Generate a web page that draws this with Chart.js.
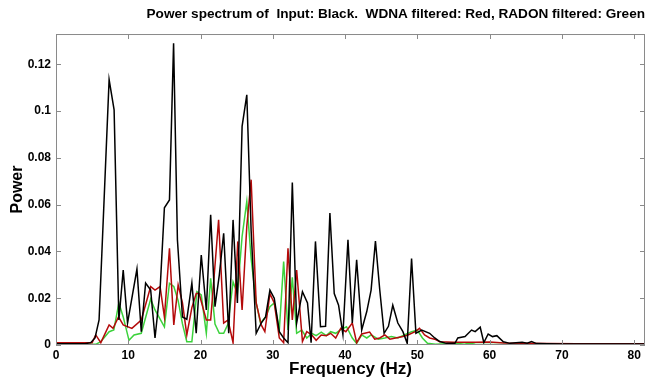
<!DOCTYPE html>
<html>
<head>
<meta charset="utf-8">
<script src="https://cdn.jsdelivr.net/npm/chart.js@4/dist/chart.umd.min.js"></script>
<style>
html,body{margin:0;padding:0;background:#fff;}
#wrap{width:654px;height:380px;}
</style>
</head>
<body>
<div id="wrap"><canvas id="c" width="654" height="380"></canvas></div>
<script>
const titleText = "Power spectrum of  Input: Black.  WDNA filtered: Red, RADON filtered: Green";
const xTitle = "Frequency (Hz)";
const yTitle = "Power";
const xTicks = [0,10,20,30,40,50,60,70,80];
const yTicks = [0,0.02,0.04,0.06,0.08,0.1,0.12];

const blackFreq = [0,2,4,4.8,5.4,5.96,7.35,8.04,8.7,9.3,9.9,11.2,11.8,12.4,13.1,13.7,14.4,15.0,15.7,16.27,16.8,17.5,18.1,18.8,19.4,20.1,20.8,21.4,22.0,22.6,23.2,23.9,24.5,25.1,25.75,26.4,27.0,27.7,28.4,29.0,29.6,30.2,30.9,31.5,32.1,32.7,33.3,34.1,34.8,35.3,35.9,36.6,37.3,37.9,38.5,39.1,39.7,40.4,41.0,41.6,42.3,43.0,43.6,44.2,44.8,45.4,46.0,46.6,47.3,48.0,48.6,49.2,49.8,50.6,51.7,52.4,53.1,54.0,55.2,55.6,56.6,57.5,58.0,58.7,59.2,59.8,60.4,61.0,61.9,62.8,64.5,65.2,65.8,66.5,68,70,75,81.5];
const blackPower = [0.0005,0.0005,0.0005,0.001,0.003,0.0107,0.1135,0.1006,0.0107,0.032,0.0094,0.0325,0.0057,0.0265,0.0235,0.003,0.0235,0.0587,0.062,0.129,0.045,0.012,0.011,0.0265,0.005,0.0385,0.015,0.0557,0.0164,0.03,0.0478,0.005,0.0535,0.018,0.0935,0.107,0.049,0.005,0.0094,0.012,0.0235,0.02,0.0057,0.003,0.001,0.0695,0.0094,0.0228,0.018,0.001,0.0443,0.0078,0.008,0.0564,0.022,0.017,0.0045,0.045,0.0094,0.0364,0.0064,0.0143,0.0235,0.0445,0.0235,0.005,0.008,0.017,0.0094,0.0057,0.0007,0.037,0.005,0.0064,0.005,0.003,0.0015,0.0007,0.0007,0.003,0.0036,0.0064,0.0057,0.0076,0.001,0.0047,0.0036,0.004,0.0014,0.0007,0.0012,0.0008,0.0015,0.0006,0.0005,0.0004,0.0004,0.0004];

const redFreq = [0,5.0,5.5,6.2,7.35,7.9,8.65,9.3,10.5,11.8,13.1,13.7,14.4,15.0,15.7,16.3,16.9,17.5,18.1,18.8,19.4,19.8,20.8,21.4,22.5,23.2,23.8,24.5,25.15,25.75,26.4,27.0,27.7,28.4,28.9,29.6,30.2,30.9,31.5,32.1,32.7,33.3,34.1,34.7,35.4,36.0,36.7,37.4,38.0,38.7,39.4,40.1,41.0,41.6,42.3,43.4,44.1,44.8,45.5,46.2,47.0,48.0,48.7,49.7,50.3,51.0,51.7,52.4,53.1,55,58,60,62,64.5,68,72,81.5];
const redPower = [0.001,0.001,0.0043,0.001,0.0086,0.0071,0.012,0.0086,0.0071,0.0107,0.025,0.0235,0.025,0.012,0.0414,0.0086,0.0257,0.018,0.0043,0.016,0.022,0.022,0.0107,0.0107,0.0535,0.0094,0.0107,0.001,0.0443,0.015,0.0507,0.0707,0.018,0.0086,0.0057,0.022,0.018,0.003,0.001,0.0414,0.0107,0.032,0.0015,0.0057,0.0043,0.002,0.0043,0.004,0.005,0.003,0.0071,0.0057,0.0094,0.001,0.0047,0.0055,0.0025,0.003,0.0043,0.0025,0.003,0.0036,0.0043,0.0057,0.0071,0.0043,0.003,0.0025,0.0014,0.0012,0.0012,0.0013,0.0009,0.0008,0.0006,0.0005,0.0005];

const greenFreq = [0,5.5,6.2,7.35,8.0,8.7,9.3,10.1,10.8,11.8,13.1,13.7,15.0,15.7,16.3,16.9,17.5,18.1,18.8,19.5,20.1,20.8,21.4,22.0,22.6,23.2,23.8,24.5,25.1,25.75,26.4,27.0,27.7,28.3,29.0,29.6,30.2,30.9,31.5,32.1,32.7,33.3,34.0,34.7,35.4,36.0,36.7,37.4,38.0,38.7,39.3,40.2,41.0,41.6,42.3,43.0,43.6,44.6,45.5,46.4,47.3,48.2,49.2,50.0,50.7,51.4,52.5,55.5,56.5,57.2,58,81.5];
const greenPower = [0.0003,0.0003,0.0014,0.0057,0.0064,0.018,0.012,0.002,0.0043,0.005,0.0196,0.015,0.0078,0.0264,0.025,0.019,0.009,0.0014,0.0014,0.0228,0.0214,0.005,0.0285,0.009,0.005,0.005,0.009,0.027,0.022,0.0464,0.0614,0.037,0.018,0.0094,0.012,0.0164,0.018,0.0064,0.0357,0.0064,0.029,0.005,0.0064,0.003,0.005,0.004,0.0055,0.004,0.0057,0.005,0.0064,0.0078,0.003,0.0007,0.0043,0.003,0.0043,0.0025,0.003,0.0036,0.003,0.0043,0.0057,0.0064,0.003,0.0007,0.0003,0.0008,0.0003,0.0008,0.0003,0.0002];

const toPts = (f, p) => f.map((x, i) => ({x: x, y: p[i]}));

const boxTicks = {
  id: 'boxTicks',
  afterDraw(chart) {
    const {ctx, chartArea: a, scales: {x, y}} = chart;
    ctx.save();
    ctx.strokeStyle = '#8a8a8a';
    ctx.lineWidth = 1;
    ctx.strokeRect(a.left + 0.5, a.top + 0.5, a.right - a.left - 1, a.bottom - a.top - 1);
    const L = 5;
    ctx.beginPath();
    xTicks.forEach(v => {
      const px = Math.round(x.getPixelForValue(v)) + 0.5;
      ctx.moveTo(px, a.bottom); ctx.lineTo(px, a.bottom - L);
      ctx.moveTo(px, a.top); ctx.lineTo(px, a.top + L);
    });
    yTicks.forEach(v => {
      const py = Math.round(y.getPixelForValue(v)) + 0.5;
      ctx.moveTo(a.left, py); ctx.lineTo(a.left + L, py);
      ctx.moveTo(a.right, py); ctx.lineTo(a.right - L, py);
    });
    ctx.stroke();
    ctx.restore();
  }
};

const FAM = 'Liberation Sans, Arial, sans-serif';
const tickFont = {family: FAM, size: 12, weight: 'bold'};

new Chart(document.getElementById('c'), {
  type: 'line',
  data: {
    datasets: [
      {label: 'Input', data: toPts(blackFreq, blackPower), borderColor: '#000000', borderWidth: 1.5, pointRadius: 0, tension: 0, fill: false},
      {label: 'WDNA filtered', data: toPts(redFreq, redPower), borderColor: '#b40a0a', borderWidth: 1.5, pointRadius: 0, tension: 0, fill: false},
      {label: 'RADON filtered', data: toPts(greenFreq, greenPower), borderColor: '#3cd23c', borderWidth: 1.5, pointRadius: 0, tension: 0, fill: false}
    ]
  },
  options: {
    responsive: false,
    animation: false,
    devicePixelRatio: 1,
    layout: {padding: {left: 0, right: 9, top: 6, bottom: 0}},
    plugins: {
      legend: {display: false},
      tooltip: {enabled: false},
      title: {
        display: true, text: titleText, color: '#000', align: 'end',
        font: {family: FAM, size: 13.6, weight: 'bold'},
        padding: {top: 0, bottom: 11.7}
      }
    },
    scales: {
      x: {
        type: 'linear', min: 0, max: 81.5,
        grid: {display: false, drawTicks: false},
        border: {display: false},
        afterBuildTicks(s) { s.ticks = xTicks.map(v => ({value: v})); },
        afterFit(s) { s.height = 35; },
        ticks: {color: '#000', font: tickFont, padding: 3, maxRotation: 0, autoSkip: false},
        title: {display: true, text: xTitle, color: '#000', padding: {top: 0, bottom: 0},
          font: {family: FAM, size: 17, weight: 'bold'}}
      },
      y: {
        type: 'linear', min: 0, max: 0.133,
        grid: {display: false, drawTicks: false},
        border: {display: false},
        afterBuildTicks(s) { s.ticks = yTicks.map(v => ({value: v})); },
        afterFit(s) { s.width = 56; },
        ticks: {color: '#000', font: tickFont, padding: 5, autoSkip: false,
          callback: v => String(v)},
        title: {display: true, text: yTitle, color: '#000', padding: {top: 8, bottom: 0},
          font: {family: FAM, size: 16, weight: 'bold'}}
      }
    }
  },
  plugins: [boxTicks]
});
</script>
</body>
</html>
